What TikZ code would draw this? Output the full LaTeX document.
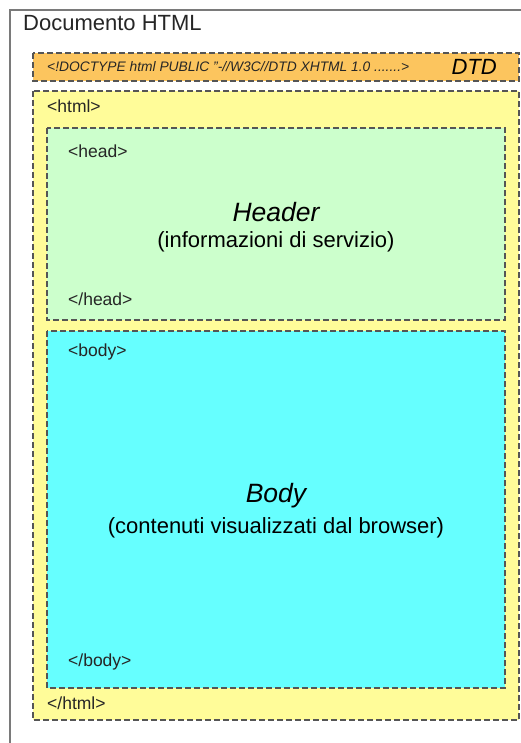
\documentclass[tikz,border=0pt]{standalone}
\usepackage{fontspec}
\setmainfont{Liberation Sans}
\usepackage{xcolor}
\usepackage{tikz}
\usetikzlibrary{positioning}
\definecolor{framec}{HTML}{7A7A7A}
\definecolor{dashc}{HTML}{555555}
\definecolor{dtdc}{HTML}{FCC55E}
\definecolor{htmlc}{HTML}{FFFC99}
\definecolor{headc}{HTML}{CCFFCC}
\definecolor{bodyc}{HTML}{66FFFF}
\tikzset{
  zone/.style={draw=dashc,line width=1.3pt,dash pattern=on 6pt off 3pt},
  tag/.style={anchor=west,inner sep=0pt,font=\fontsize{17.5}{20}\selectfont,text=black!85},
  ttl/.style={inner sep=0pt,font=\fontsize{26.5}{30}\selectfont\itshape},
  sub/.style={inner sep=0pt,font=\fontsize{22}{26}\selectfont}
}
\begin{document}
\begin{tikzpicture}[x=1pt,y=-1pt]
\useasboundingbox (0,0) rectangle (521,743);
\fill[white] (0,0) rectangle (521,743);
\draw[framec,line width=1.5pt] (10,743)--(10,10)--(521,10);
\node[tag,font=\fontsize{22}{26}\selectfont] (doc) at (23,23) {Documento HTML};
% zone del documento
\draw[zone,fill=dtdc] (33,53) rectangle (519,81);
\draw[zone,fill=htmlc] (33,91) rectangle (519,720);
\draw[zone,fill=headc] (47,128) rectangle (505,320);
\draw[zone,fill=bodyc] (47,331) rectangle (505,688);
\node[tag,font=\fontsize{13.8}{16}\selectfont\itshape] (dtype) at (47,67) {<!DOCTYPE html PUBLIC "-//W3C//DTD XHTML 1.0 .......>};
\node[ttl,anchor=east,font=\fontsize{22}{26}\selectfont\itshape] (dtd) at (497,67) {DTD};
\node[tag] (hopen) at (47,106) {<html>};
\node[tag] (hdopen) at (68,151) {<head>};
\node[ttl] (header) at (276,212) {Header};
\node[sub,below=9pt of header] (hinfo) {(informazioni di servizio)};
\node[tag] (hdclose) at (68,299) {</head>};
\node[tag] (bopen) at (68,352) {<body>};
\node[ttl] (body) at (276,496) {Body};
\node[sub,below=9pt of body] (binfo) {(contenuti visualizzati dal browser)};
\node[tag] (bclose) at (68,662) {</body>};
\node[tag] (hclose) at (47,703) {</html>};
\end{tikzpicture}
\end{document}
